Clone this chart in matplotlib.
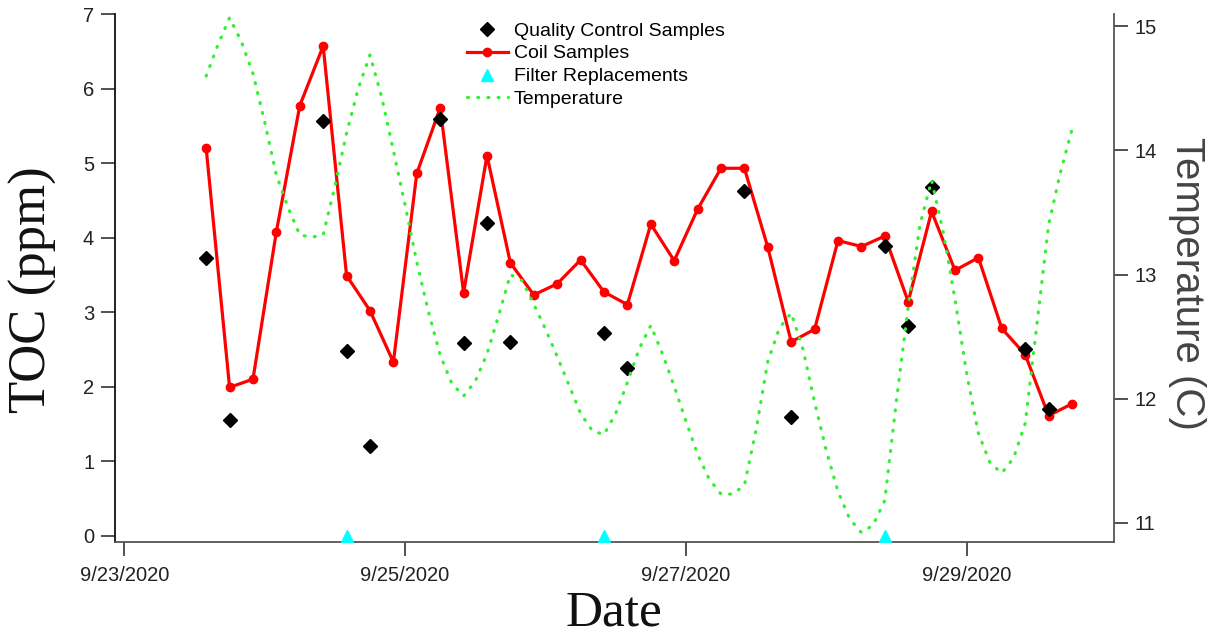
import matplotlib
matplotlib.use("Agg")
import matplotlib.pyplot as plt
import matplotlib.dates as mdates
from matplotlib.ticker import FuncFormatter, FixedLocator
import pandas as pd

# ---------------- data ----------------
coil_start = "2020-09-23 14:00"
coil_step = "4h"
coil_toc = [5.20, 1.99, 2.10, 4.08, 5.77, 6.57, 3.49, 3.02, 2.33, 4.86,
            5.74, 3.26, 5.10, 3.66, 3.23, 3.38, 3.70, 3.27, 3.10, 4.18,
            3.69, 4.38, 4.93, 4.93, 3.87, 2.60, 2.77, 3.96, 3.88, 4.02,
            3.14, 4.35, 3.56, 3.73, 2.78, 2.43, 1.61, 1.77]

qc_times = ["2020-09-23 14:00", "2020-09-23 18:00", "2020-09-24 10:00",
            "2020-09-24 14:00", "2020-09-24 18:00", "2020-09-25 06:00",
            "2020-09-25 10:00", "2020-09-25 14:00", "2020-09-25 18:00",
            "2020-09-26 10:00", "2020-09-26 14:00", "2020-09-27 10:00",
            "2020-09-27 18:00", "2020-09-28 10:00", "2020-09-28 14:00",
            "2020-09-28 18:00", "2020-09-29 10:00", "2020-09-29 14:00"]
qc_toc = [3.73, 1.55, 5.56, 2.48, 1.20, 5.59, 2.58, 4.20, 2.60,
          2.72, 2.25, 4.62, 1.59, 3.89, 2.81, 4.68, 2.50, 1.70]

filter_times = ["2020-09-24 14:00", "2020-09-26 10:00", "2020-09-28 10:00"]
filter_toc = [0, 0, 0]

temp_start = "2020-09-23 14:00"
temp_step = "2h"
temp_c = [14.60, 14.85, 15.07, 14.88, 14.62, 14.23, 13.80, 13.54, 13.32, 13.30,
          13.32, 13.71, 14.14, 14.50, 14.77, 14.43, 14.00, 13.56, 13.10, 12.70,
          12.35, 12.12, 12.02, 12.14, 12.36, 12.67, 13.00, 12.95, 12.76, 12.56,
          12.34, 12.11, 11.88, 11.74, 11.71, 11.88, 12.13, 12.40, 12.59, 12.36,
          12.10, 11.82, 11.55, 11.35, 11.23, 11.23, 11.30, 11.75, 12.30, 12.57,
          12.69, 12.40, 11.97, 11.58, 11.25, 11.03, 10.92, 10.98, 11.18, 11.99,
          12.74, 13.40, 13.76, 13.34, 12.80, 12.20, 11.72, 11.48, 11.40, 11.52,
          11.80, 12.60, 13.40, 13.82, 14.17]

x_ticks = ["2020-09-23", "2020-09-25", "2020-09-27", "2020-09-29"]
toc_ticks = [0, 1, 2, 3, 4, 5, 6, 7]
temp_ticks = [11, 12, 13, 14, 15]

# ---------------- build ----------------
coil_t = pd.date_range(coil_start, periods=len(coil_toc), freq=coil_step)
temp_t = pd.date_range(temp_start, periods=len(temp_c), freq=temp_step)
qc_t = pd.to_datetime(qc_times)
filt_t = pd.to_datetime(filter_times)

W, H = 1212, 637
fig = plt.figure(figsize=(W / 100, H / 100), dpi=100)
L, R, T, B = 115, 1114, 14, 542
ax = fig.add_axes([L / W, 1 - B / H, (R - L) / W, (B - T) / H])
ax2 = ax.twinx()

sans = "Liberation Sans"
serif = "Liberation Serif"
tick_color = "#222222"

ax.plot(coil_t, coil_toc, color="red", lw=2.3, marker="o", ms=6,
        label="Coil Samples", zorder=3)
ax.plot(qc_t, qc_toc, ls="none", marker="D", ms=7, color="black",
        label="Quality Control Samples", zorder=4)
ax.plot(filt_t, filter_toc, ls="none", marker="^", ms=9, color="#00ffff",
        label="Filter Replacements", zorder=4)
ax2.plot(temp_t, temp_c, color="#33f033", lw=2.3, ls=(0, (0.3, 2.9)),
         dash_capstyle="round", label="Temperature")

xmin = pd.Timestamp("2020-09-23") - pd.Timedelta(days=0.066)
xmax = pd.Timestamp("2020-09-30") + pd.Timedelta(days=0.049)
ax.set_xlim(xmin, xmax)
ax.set_ylim(-0.085, 7.0)
ax2.set_ylim(10.844, 15.10)

ax.xaxis.set_major_locator(FixedLocator(mdates.date2num(pd.to_datetime(x_ticks))))
ax.xaxis.set_major_formatter(FuncFormatter(
    lambda v, p: (lambda d: f"{d.month}/{d.day}/{d.year}")(mdates.num2date(v))))
ax.set_yticks(toc_ticks)
ax2.set_yticks(temp_ticks)

for a in (ax, ax2):
    a.spines["top"].set_visible(False)
ax.spines["right"].set_visible(False)
ax2.spines["left"].set_visible(False)
ax2.spines["bottom"].set_visible(False)
ax.spines["left"].set_color("#111111")
ax.spines["bottom"].set_color("#555555")
ax2.spines["right"].set_color("#555555")
for s in (ax.spines["left"], ax.spines["bottom"], ax2.spines["right"]):
    s.set_linewidth(1.3)

ax.tick_params(axis="y", direction="out", length=10, width=1.2, pad=5,
               labelsize=14.5, labelcolor=tick_color, color="#333333")
ax.tick_params(axis="x", direction="out", length=10, width=1.2, pad=7,
               labelsize=14.5, labelcolor=tick_color, color="#333333")
ax2.tick_params(axis="y", direction="out", length=10, width=1.2, pad=5,
                labelsize=14.5, labelcolor=tick_color, color="#333333")
for lab in ax.get_xticklabels() + ax.get_yticklabels() + ax2.get_yticklabels():
    lab.set_fontfamily(sans)

fig.text(33 / W, 1 - 290 / H, "TOC (ppm)", rotation=90, ha="center",
         va="center", fontsize=38, family=serif, color="#111111")
fig.text(614 / W, 1 - 626 / H, "Date", ha="center", va="baseline",
         fontsize=37, family=serif, color="#111111")
fig.text(1187 / W, 1 - 283 / H, "Temperature (C)", rotation=270, ha="center",
         va="center", fontsize=29, family=sans, color="#444444")

h1, l1 = ax.get_legend_handles_labels()
h2, l2 = ax2.get_legend_handles_labels()
handles = [h1[1], h1[0], h1[2], h2[0]]
labels = [l1[1], l1[0], l1[2], l2[0]]
fig.legend(handles, labels, loc="upper left",
           bbox_to_anchor=(467 / W, 1 - 22 / H), frameon=False,
           prop={"family": sans, "size": 14}, handlelength=2.1,
           handletextpad=0.3, labelspacing=0.27, borderaxespad=0,
           borderpad=0)

fig.savefig("out.png", dpi=100)
